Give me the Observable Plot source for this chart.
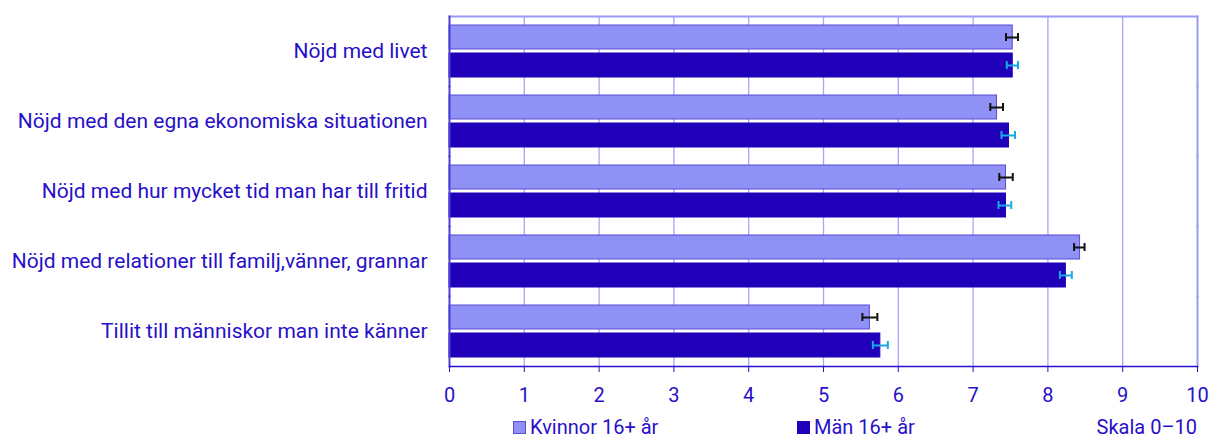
<!DOCTYPE html>
<html>
<head>
<meta charset="utf-8">
<script src="https://cdn.jsdelivr.net/npm/d3@7"></script>
<script src="https://cdn.jsdelivr.net/npm/@observablehq/plot@0.6"></script>
<style>
  html, body { margin: 0; padding: 0; background: #fff; }
  body { width: 1213px; height: 441px; overflow: hidden; font-family: Roboto, "Noto Sans", sans-serif; color: #2810c8; }
  #chart svg { display: block; }
  #legend { position: relative; height: 18px; font-size: 20px; line-height: 18px; margin-top: -5px; }
  #legend .item { position: absolute; top: 0; height: 18px; display: flex; align-items: center; white-space: nowrap; }
  #legend .sw { width: 13px; height: 13px; margin-right: 4px; box-sizing: border-box; }
</style>
</head>
<body>
<div id="chart"></div>
<div id="legend"></div>
<script>
// ---- data ----
const categories = [
  "Nöjd med livet",
  "Nöjd med den egna ekonomiska situationen",
  "Nöjd med hur mycket tid man har till fritid",
  "Nöjd med relationer till familj,vänner, grannar",
  "Tillit till människor man inte känner"
];
const series = ["Kvinnor 16+ år", "Män 16+ år"];
const kvinnor   = [7.53, 7.32, 7.44, 8.43, 5.62];
const kvinnorLo = [7.44, 7.23, 7.35, 8.35, 5.52];
const kvinnorHi = [7.60, 7.40, 7.53, 8.49, 5.72];
const man       = [7.53, 7.48, 7.44, 8.24, 5.76];
const manLo     = [7.45, 7.38, 7.34, 8.16, 5.66];
const manHi     = [7.60, 7.56, 7.51, 8.32, 5.86];
const xTicks = [0, 1, 2, 3, 4, 5, 6, 7, 8, 9, 10];
const gridTicks = [1, 2, 3, 4, 5, 6, 7, 8, 9];
const scaleNote = "Skala 0–10";

// ---- styles ----
const colK = "#8f91f5", strokeK = "#5a4bd8";
const colM = "#2100b9";
const errK = "#111111", errM = "#1aa8e8";
const textCol = "#2810c8";
const gridCol = "#a6a6f6";

const rows = categories.flatMap((c, i) => [
  {cat: c, sex: series[0], v: kvinnor[i], lo: kvinnorLo[i], hi: kvinnorHi[i]},
  {cat: c, sex: series[1], v: man[i], lo: manLo[i], hi: manHi[i]}
]);
const rowsK = rows.filter(d => d.sex === series[0]);
const rowsM = rows.filter(d => d.sex === series[1]);

const chart = Plot.plot({
  width: 1213,
  height: 423,
  marginLeft: 449,
  marginRight: 16,
  marginTop: 16,
  marginBottom: 57,
  style: {fontFamily: "Roboto, 'Noto Sans', sans-serif", fontSize: "20px", color: textCol, background: "#fff"},
  x: {domain: [0, 10]},
  y: {domain: series, paddingInner: 0.16, paddingOuter: 0.33, axis: null},
  fy: {domain: categories, paddingInner: 0, paddingOuter: 0},
  marks: [
    Plot.ruleX(gridTicks, {stroke: gridCol, strokeWidth: 1.3}),
    Plot.barX(rowsK, {x: "v", y: "sex", fy: "cat", fill: colK, stroke: strokeK, strokeWidth: 1}),
    Plot.barX(rowsM, {x: "v", y: "sex", fy: "cat", fill: colM, stroke: colM, strokeWidth: 1}),
    Plot.ruleY(rowsK, {y: "sex", fy: "cat", x1: "lo", x2: "hi", stroke: errK, strokeWidth: 2}),
    Plot.tickX(rowsK, {x: "lo", y: "sex", fy: "cat", stroke: errK, strokeWidth: 2, insetTop: 8, insetBottom: 8}),
    Plot.tickX(rowsK, {x: "hi", y: "sex", fy: "cat", stroke: errK, strokeWidth: 2, insetTop: 8, insetBottom: 8}),
    Plot.ruleY(rowsM, {y: "sex", fy: "cat", x1: "lo", x2: "hi", stroke: errM, strokeWidth: 2}),
    Plot.tickX(rowsM, {x: "lo", y: "sex", fy: "cat", stroke: errM, strokeWidth: 2, insetTop: 8, insetBottom: 8}),
    Plot.tickX(rowsM, {x: "hi", y: "sex", fy: "cat", stroke: errM, strokeWidth: 2, insetTop: 8, insetBottom: 8}),
    Plot.frame({anchor: "top", facetAnchor: "top", stroke: "#9b9bf5", strokeWidth: 2}),
    Plot.frame({anchor: "right", stroke: "#9b9bf5", strokeWidth: 2}),
    Plot.frame({anchor: "left", stroke: "#4b3fd6", strokeWidth: 2}),
    Plot.frame({anchor: "bottom", facetAnchor: "bottom", stroke: textCol, strokeWidth: 1.5}),
    Plot.axisX({ticks: xTicks, tickSize: 6, tickPadding: 15, label: null, stroke: textCol, fill: textCol, fontSize: 20}),
    Plot.axisFy({anchor: "left", tickSize: 0, tickPadding: 22, label: null, fill: textCol, fontSize: 21})
  ]
});
document.getElementById("chart").appendChild(chart);

// ---- legend ----
const legend = document.getElementById("legend");
const items = [
  {label: series[0], fill: colK, stroke: strokeK, left: 513},
  {label: series[1], fill: colM, stroke: colM, left: 797}
];
for (const it of items) {
  const el = document.createElement("div");
  el.className = "item";
  el.style.left = it.left + "px";
  const sw = document.createElement("span");
  sw.className = "sw";
  sw.style.background = it.fill;
  sw.style.border = "1px solid " + it.stroke;
  el.appendChild(sw);
  const t = document.createElement("span");
  t.textContent = it.label;
  el.appendChild(t);
  legend.appendChild(el);
}
const note = document.createElement("div");
note.className = "item";
note.style.right = "16px";
note.textContent = scaleNote;
legend.appendChild(note);
</script>
</body>
</html>
